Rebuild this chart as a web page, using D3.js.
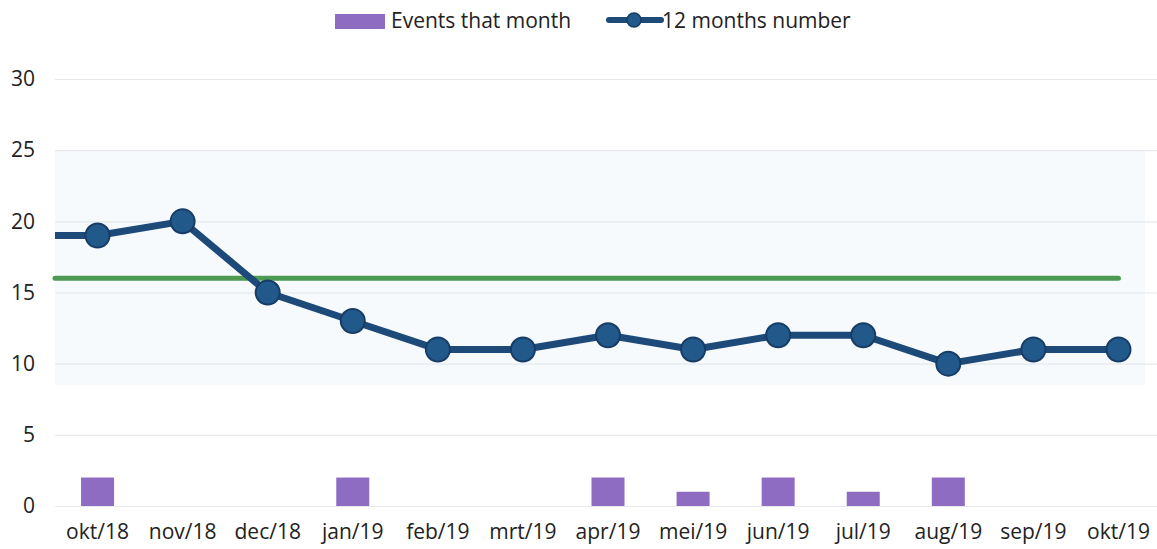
<!DOCTYPE html>
<html><head><meta charset="utf-8">
<script src="https://cdn.jsdelivr.net/npm/d3@7"></script>
<style>body{margin:0;background:#fff}svg{display:block}text{font-family:"Open Sans",Lato,sans-serif;fill:#222}</style>
</head><body><svg id="c" width="1157" height="549"></svg>
<script>
const categories = ["okt/18","nov/18","dec/18","jan/19","feb/19","mrt/19","apr/19","mei/19","jun/19","jul/19","aug/19","sep/19","okt/19"];
const eventsThatMonth = [2,0,0,2,0,0,2,1,2,1,2,0,0];
const twelveMonths = [19,20,15,13,11,11,12,11,12,12,10,11,11];
const previousTwelveMonths = 19; // sep/18, just left of the plot
const targetValues = [16,16];
const yTicks = [0,5,10,15,20,25,30];
const bandRange = [8.5,25];
const legendLabels = ["Events that month","12 months number"];

const svg = d3.select("#c");
const x = d3.scaleBand().domain(categories).range([55,1161]).padding(0);
const step = x.step();
const cx = c => x(c) + step/2;
const y = d3.scaleLinear().domain([0,30]).range([506,79]);
const left = 55, right = 1161;
const fs = 21;

svg.append("rect").attr("x",left).attr("width",1145-left)
  .attr("y",y(bandRange[1])).attr("height",y(bandRange[0])-y(bandRange[1])).attr("fill","#f6fafd");

const yAxis = d3.axisLeft(y).tickValues(yTicks).tickSize(-(right-left)).tickPadding(20);
const gy = svg.append("g").attr("transform",`translate(${left},0)`).call(yAxis);
gy.select(".domain").remove();
gy.selectAll(".tick line").attr("stroke","#e6e8ec").attr("stroke-width",1.2);
gy.selectAll(".tick text").attr("font-size",fs).style("fill","#222");

const xAxis = d3.axisBottom(x).tickSize(0).tickPadding(18);
const gx = svg.append("g").attr("transform",`translate(0,${y(0)})`).call(xAxis);
gx.select(".domain").remove();
gx.selectAll(".tick text").attr("font-size",fs).style("fill","#222");

const bw = 33;
svg.append("g").selectAll("rect").data(categories.map((c,i)=>({c,v:eventsThatMonth[i]})).filter(d=>d.v>0))
  .join("rect").attr("x",d=>cx(d.c)-bw/2).attr("width",bw)
  .attr("y",d=>y(d.v)).attr("height",d=>y(0)-y(d.v)).attr("fill","#8d6cc2");

// target line
svg.append("line").attr("x1",left).attr("x2",cx(categories[categories.length-1]))
  .attr("y1",y(targetValues[0])).attr("y2",y(targetValues[1]))
  .attr("stroke","#4d9a52").attr("stroke-width",5).attr("stroke-linecap","round");

svg.append("clipPath").attr("id","clip").append("rect").attr("x",left).attr("y",0).attr("width",right-left).attr("height",549);
const pts = [{px:cx(categories[0])-step, v:previousTwelveMonths}].concat(categories.map((c,i)=>({px:cx(c),v:twelveMonths[i]})));
svg.append("path").attr("clip-path","url(#clip)").datum(pts)
  .attr("d",d3.line().x(d=>d.px).y(d=>y(d.v)))
  .attr("fill","none").attr("stroke","#1d4a78").attr("stroke-width",7).attr("stroke-linejoin","round");
svg.append("g").selectAll("circle").data(pts.slice(1)).join("circle")
  .attr("cx",d=>d.px).attr("cy",d=>y(d.v)).attr("r",12)
  .attr("fill","#22598b").attr("stroke","#173d66").attr("stroke-width",2);

// legend
const lg = svg.append("g");
lg.append("rect").attr("x",335).attr("y",14).attr("width",50).attr("height",15).attr("fill","#8d6cc2");
lg.append("text").attr("x",391).attr("y",28).attr("font-size",fs).text(legendLabels[0]);
lg.append("line").attr("x1",609).attr("x2",661).attr("y1",20).attr("y2",20).attr("stroke","#1d4a78").attr("stroke-width",6).attr("stroke-linecap","round");
lg.append("circle").attr("cx",634).attr("cy",20).attr("r",7).attr("fill","#22598b").attr("stroke","#173d66").attr("stroke-width",1.5);
lg.append("text").attr("x",662).attr("y",28).attr("font-size",fs).text(legendLabels[1]);
</script></body></html>
